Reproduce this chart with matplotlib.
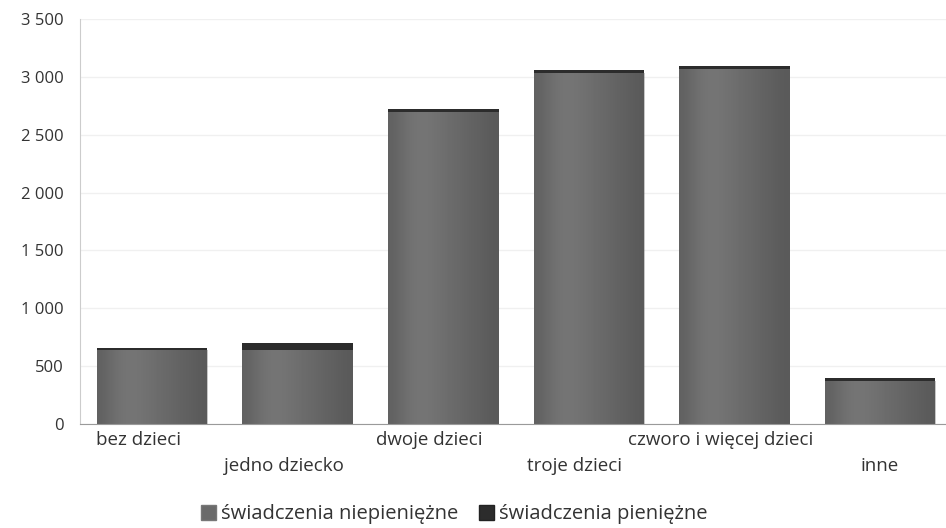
import matplotlib
matplotlib.use("Agg")
import matplotlib.pyplot as plt
import matplotlib.transforms as mtransforms
import numpy as np
from matplotlib.ticker import FuncFormatter
from matplotlib.patches import Patch

categories = ["bez dzieci", "jedno dziecko", "dwoje dzieci", "troje dzieci",
              "czworo i więcej dzieci", "inne"]
niepieniezne = [640, 640, 2700, 3030, 3070, 375]
pieniezne = [15, 60, 25, 25, 25, 25]
series_labels = ["świadczenia niepieniężne", "świadczenia pieniężne"]
yticks = [0, 500, 1000, 1500, 2000, 2500, 3000, 3500]

plt.rcParams['font.family'] = ['Open Sans', 'DejaVu Sans']

fig = plt.figure(figsize=(9.46, 5.28), dpi=100)
ax = fig.add_axes([80/946, 1-424/528, 1-80/946, (424-19)/528])

x = np.arange(len(categories))
w = 0.76
c_low = "#575757"
c_top = "#2c2c2c"
b1 = ax.bar(x, niepieniezne, width=w, color=c_low, zorder=2)
b2 = ax.bar(x, pieniezne, width=w, bottom=niepieniezne, color=c_top, zorder=2)

# shading gradient overlay to mimic the printed bars
grad = np.array([[-0.1, 0.15, 0.35, 0.45, 0.4, 0.3, 0.2, 0.1, 0.0, -0.1, -0.2, -0.3]])
for rect in list(b1):
    bx, by = rect.get_x(), rect.get_y()
    bw, bh = rect.get_width(), rect.get_height()
    im = ax.imshow(grad, cmap="gray", vmin=-1.2, vmax=1.2, alpha=0.35,
                   extent=[bx, bx + bw, by, by + bh], aspect="auto",
                   interpolation="bicubic", zorder=3)
    im.set_clip_path(rect)

ax.set_xlim(-0.495, 5.453)
ax.set_ylim(0, 3500)
ax.set_yticks(yticks)
ax.yaxis.set_major_formatter(FuncFormatter(lambda v, p: f"{int(v):,}".replace(",", " ")))
ax.set_xticks(x)
ax.set_xticklabels(categories)
for i, t in enumerate(ax.xaxis.get_major_ticks()):
    t.set_pad(5 if i % 2 == 0 else 24)
ax.tick_params(axis="both", length=0, colors="#333333")
ax.tick_params(axis="y", pad=12, labelsize=12)
ax.tick_params(axis="x", labelsize=13.5)
shift = mtransforms.ScaledTranslation(-14/100, 0, fig.dpi_scale_trans)
for lbl in ax.get_xticklabels()[:-1]:
    lbl.set_transform(lbl.get_transform() + shift)

ax.grid(axis="y", color="#f0f0f0", linewidth=1, zorder=0)
ax.set_axisbelow(True)
for s in ["top", "right"]:
    ax.spines[s].set_visible(False)
ax.spines["left"].set_color("#cccccc")
ax.spines["bottom"].set_color("#9a9a9a")

handles = [Patch(facecolor="#6a6a6a", edgecolor="#777777"), Patch(facecolor=c_top, edgecolor="#222222")]
fig.legend(handles, series_labels, loc="center", bbox_to_anchor=(0.48, 0.026), ncol=2,
           frameon=False, fontsize=14.5, handlelength=0.75, handleheight=0.75,
           handletextpad=0.25, columnspacing=1.0, labelcolor="#333333")

fig.savefig("out.png", dpi=100, facecolor="white")
